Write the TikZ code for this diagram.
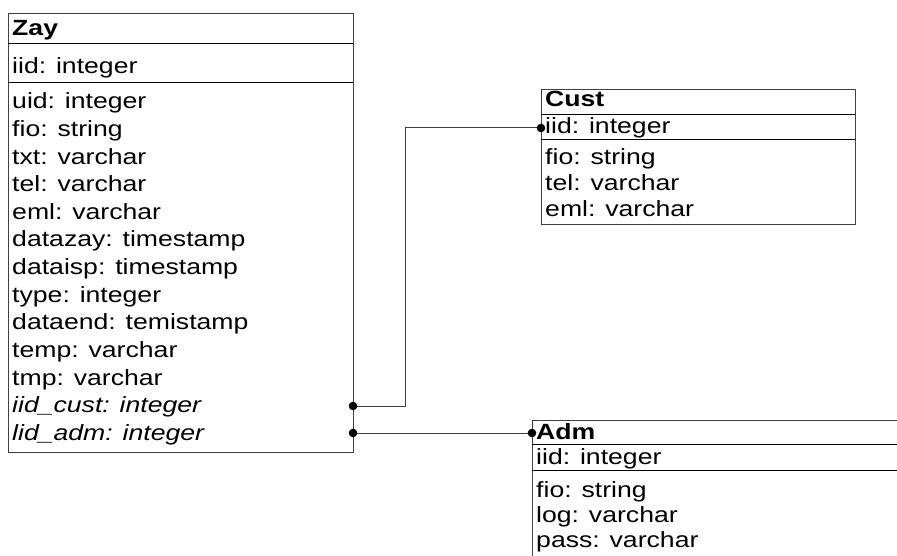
\documentclass[tikz,border=0pt]{standalone}
\usepackage{fontspec}
\setmainfont{Liberation Sans}[FakeStretch=1.21]
\begin{document}
\begin{tikzpicture}[x=1pt,y=-1pt,
  outer/.style={draw=black!75,line width=1pt,fill=white},
  divider/.style={draw=black,line width=1pt},
  fld/.style={anchor=base west,inner sep=0pt,font=\fontsize{22}{26}\selectfont},
  conn/.style={draw=black!75,line width=1pt},
  dot/.style={fill=black}]
\clip (0,0) rectangle (897,556);
\fill[white] (0,0) rectangle (897,556);

% ---- Zay ----
\draw[outer] (8,14) rectangle (353,452);
\draw[divider] (8,44) -- (353,44);
\draw[divider] (8,83) -- (353,83);
\node[fld] (zay-h) at (12,36) {\textbf{Zay}};
\node[fld] (zay-iid) at (12,74) {iid: integer};
\foreach \t [count=\i from 0] in {uid: integer,fio: string,txt: varchar,tel: varchar,eml: varchar,datazay: timestamp,dataisp: timestamp,type: integer,dataend: temistamp,temp: varchar,tmp: varchar}
  \node[fld] (zay-\i) at (12,{109+27.6*\i}) {\t};
\node[fld] (zay-icust) at (12,{109+27.6*11}) {\itshape iid\_cust: integer};
\node[fld] (zay-iadm) at (12,{109+27.6*12}) {\itshape lid\_adm: integer};

% ---- Cust ----
\draw[outer] (541,90) rectangle (855,225);
\draw[divider] (541,115) -- (855,115);
\draw[divider] (541,140) -- (855,140);
\node[fld] (cust-h) at (545,107) {\textbf{Cust}};
\node[fld] (cust-iid) at (545,134) {iid: integer};
\node[fld] (cust-fio) at (545,165) {fio: string};
\node[fld] (cust-tel) at (545,191) {tel: varchar};
\node[fld] (cust-eml) at (545,217) {eml: varchar};

% ---- Adm ----
\draw[outer] (532,420) rectangle (910,570);
\draw[divider] (532,444) -- (910,444);
\draw[divider] (532,470) -- (910,470);
\node[fld] (adm-h) at (536,439) {\textbf{Adm}};
\node[fld] (adm-iid) at (536,464) {iid: integer};
\node[fld] (adm-fio) at (536,497) {fio: string};
\node[fld] (adm-log) at (536,522) {log: varchar};
\node[fld] (adm-pass) at (536,547) {pass: varchar};

% ---- relations ----
\coordinate (zay-cust) at (353,406);
\coordinate (zay-adm) at (353,433);
\coordinate (cust-in) at (541,128);
\coordinate (adm-in) at (532,433);
\draw[conn] (zay-cust) -- ++(52,0) |- (cust-in);
\draw[conn] (zay-adm) -- (adm-in);
\foreach \p in {zay-cust,zay-adm,cust-in,adm-in}
  \fill[dot] (\p) circle (4.3pt);
\end{tikzpicture}
\end{document}
